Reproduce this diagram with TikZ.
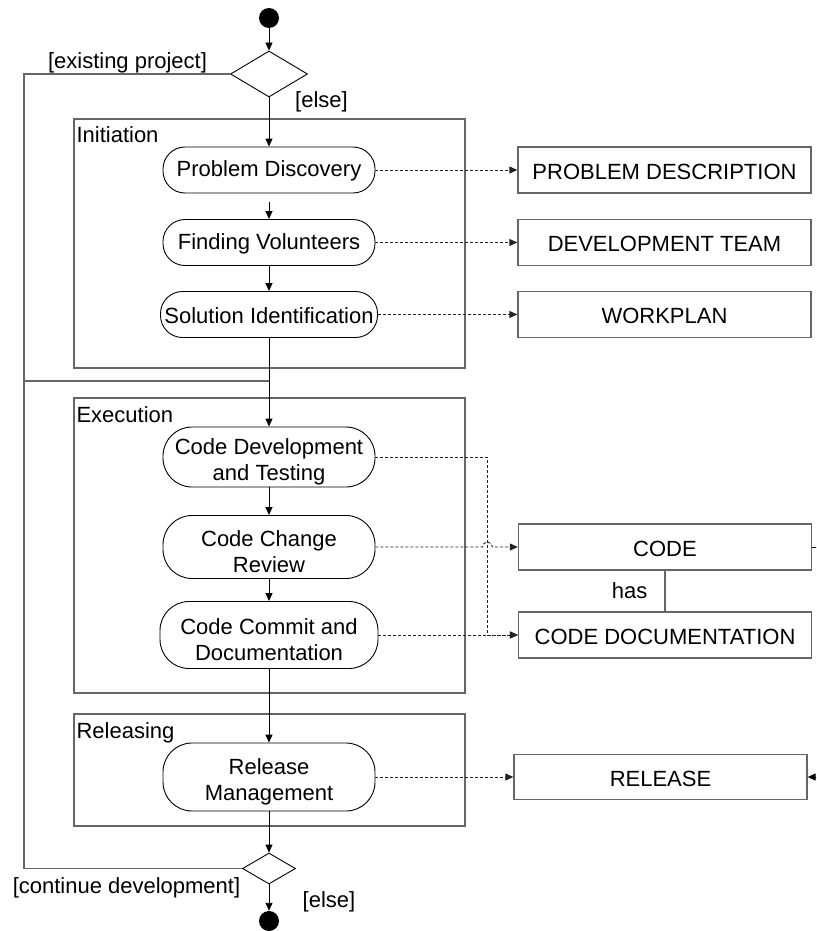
\documentclass[tikz,border=0pt]{standalone}
\usepackage{fontspec}
\setmainfont{Liberation Sans}
\usepackage{xcolor}
\usepackage{tikz}
\usetikzlibrary{arrows.meta,positioning,shapes.geometric,shapes.misc}
\definecolor{FrameGrey}{HTML}{666666}
\definecolor{DashInk}{HTML}{222222}
\definecolor{Ink}{HTML}{000000}

\begin{document}
\begin{tikzpicture}[
  x=1pt,y=-1pt,
  every node/.style={font=\fontsize{22}{26}\selectfont},
  act/.style={rectangle,rounded corners=22pt,draw=Ink,line width=0.9pt,align=center,minimum width=212pt,minimum height=46pt,inner sep=0pt,text height=18.5pt},
  acttwo/.style={act,rounded corners=29pt,text height=52pt},
  lane/.style={draw=FrameGrey,line width=1.3pt,minimum width=391pt,inner sep=0pt},
  lanename/.style={anchor=base west,inner sep=0pt},
  artefact/.style={draw=FrameGrey,line width=1.3pt,minimum width=293pt,minimum height=46pt,inner sep=0pt,text height=18.5pt},
  decision/.style={diamond,draw=Ink,line width=0.9pt,minimum width=77pt,minimum height=46pt,inner sep=0pt},
  startstop/.style={circle,fill=Ink,minimum size=20pt,inner sep=0pt},
  guard/.style={inner sep=0pt},
  flow/.style={-{Triangle[length=8pt,width=7pt]},draw=Ink,line width=0.9pt},
  dep/.style={-{Triangle[length=8pt,width=7pt]},draw=DashInk,line width=0.9pt,dash pattern=on 3pt off 2pt},
  backflow/.style={draw=FrameGrey,line width=1.3pt},
  assoc/.style={draw=FrameGrey,line width=1.3pt}
]
\path[use as bounding box] (0,0) rectangle (816,931);
\clip (0,0) rectangle (816,931);

\node[lane,minimum height=249pt] (initlane) at (269.5,243.5) {};
\node[lane,minimum height=295pt] (execlane) at (269.5,545.5) {};
\node[lane,minimum height=112pt] (rellane) at (269.5,770) {};
\node[lanename,xshift=3pt,yshift=-24pt] (initname) at (initlane.north west) {Initiation};
\node[lanename,xshift=3pt,yshift=-25pt] (execname) at (execlane.north west) {Execution};
\node[lanename,xshift=3pt,yshift=-25pt] (relname) at (rellane.north west) {Releasing};

\node[startstop] (start) at (269,18) {};
\node[decision] (d1) at (269,74) {};
\node[act] (pd) at (269,170) {Problem Discovery};
\node[act] (fv) at (269,242.5) {Finding Volunteers};
\node[act,minimum width=217pt] (si) at (269,314.5) {Solution Identification};
\node[acttwo,minimum height=60pt] (cdt) at (269,457) {Code Development\\and Testing};
\node[acttwo,minimum height=63pt] (ccr) at (269,547) {Code Change\\Review};
\node[acttwo,minimum width=218pt,minimum height=67pt] (ccd) at (269,635) {Code Commit and\\Documentation};
\node[acttwo,minimum height=68pt] (rm) at (269,777) {Release\\Management};
\node[decision,minimum width=53pt,minimum height=31pt] (d2) at (269,868.5) {};
\node[startstop] (stop) at (269,921) {};

\node[artefact] (pdesc) at (664.5,170) {PROBLEM DESCRIPTION};
\node[artefact] (team) at (664.5,242.5) {DEVELOPMENT TEAM};
\node[artefact] (plan) at (664.5,314.5) {WORKPLAN};
\node[artefact] (code) at (665,547) {CODE};
\node[artefact] (cdoc) at (665,635) {CODE DOCUMENTATION};
\node[artefact,minimum height=45pt] (release) at (660.5,777) {RELEASE};

\node[guard] (gexisting) at (127.5,62.5) {[existing project]};
\node[guard] (gelse) at (321.5,102) {[else]};
\node[guard] (gcontinue) at (126.5,888) {[continue development]};
\node[guard] (gdone) at (329,902) {[else]};

\coordinate (join) at (269,381);
\coordinate (leftrail) at (24,381);
\draw[backflow] (d1.west) -| (leftrail) -- (join);
\draw[backflow] (d2.west) -| (leftrail);

\foreach \a/\b in {start/d1,d1/pd,fv/si,si/cdt,cdt/ccr,ccr/ccd,ccd/rm,rm/d2,d2/stop}
  \draw[flow] (\a) -- (\b);
\draw[flow,shorten <=9pt] (pd) -- (fv);

\foreach \a/\b in {pd/pdesc,fv/team,si/plan,ccd/cdoc,rm/release}
  \draw[dep] (\a.east) -- (\b.west);
\draw[dep] (cdt.east) -- ++(112,0) |- (cdoc.west);
\draw[dep] (ccr.east) -- ++(107,0) arc[start angle=180,end angle=360,radius=5] -- (code.west);

\draw[assoc] (code) -- node[guard,left=17pt] (has) {has} (cdoc);
\draw[flow] (code.east) -- ++(30,0) |- (release.east);
\end{tikzpicture}
\end{document}
